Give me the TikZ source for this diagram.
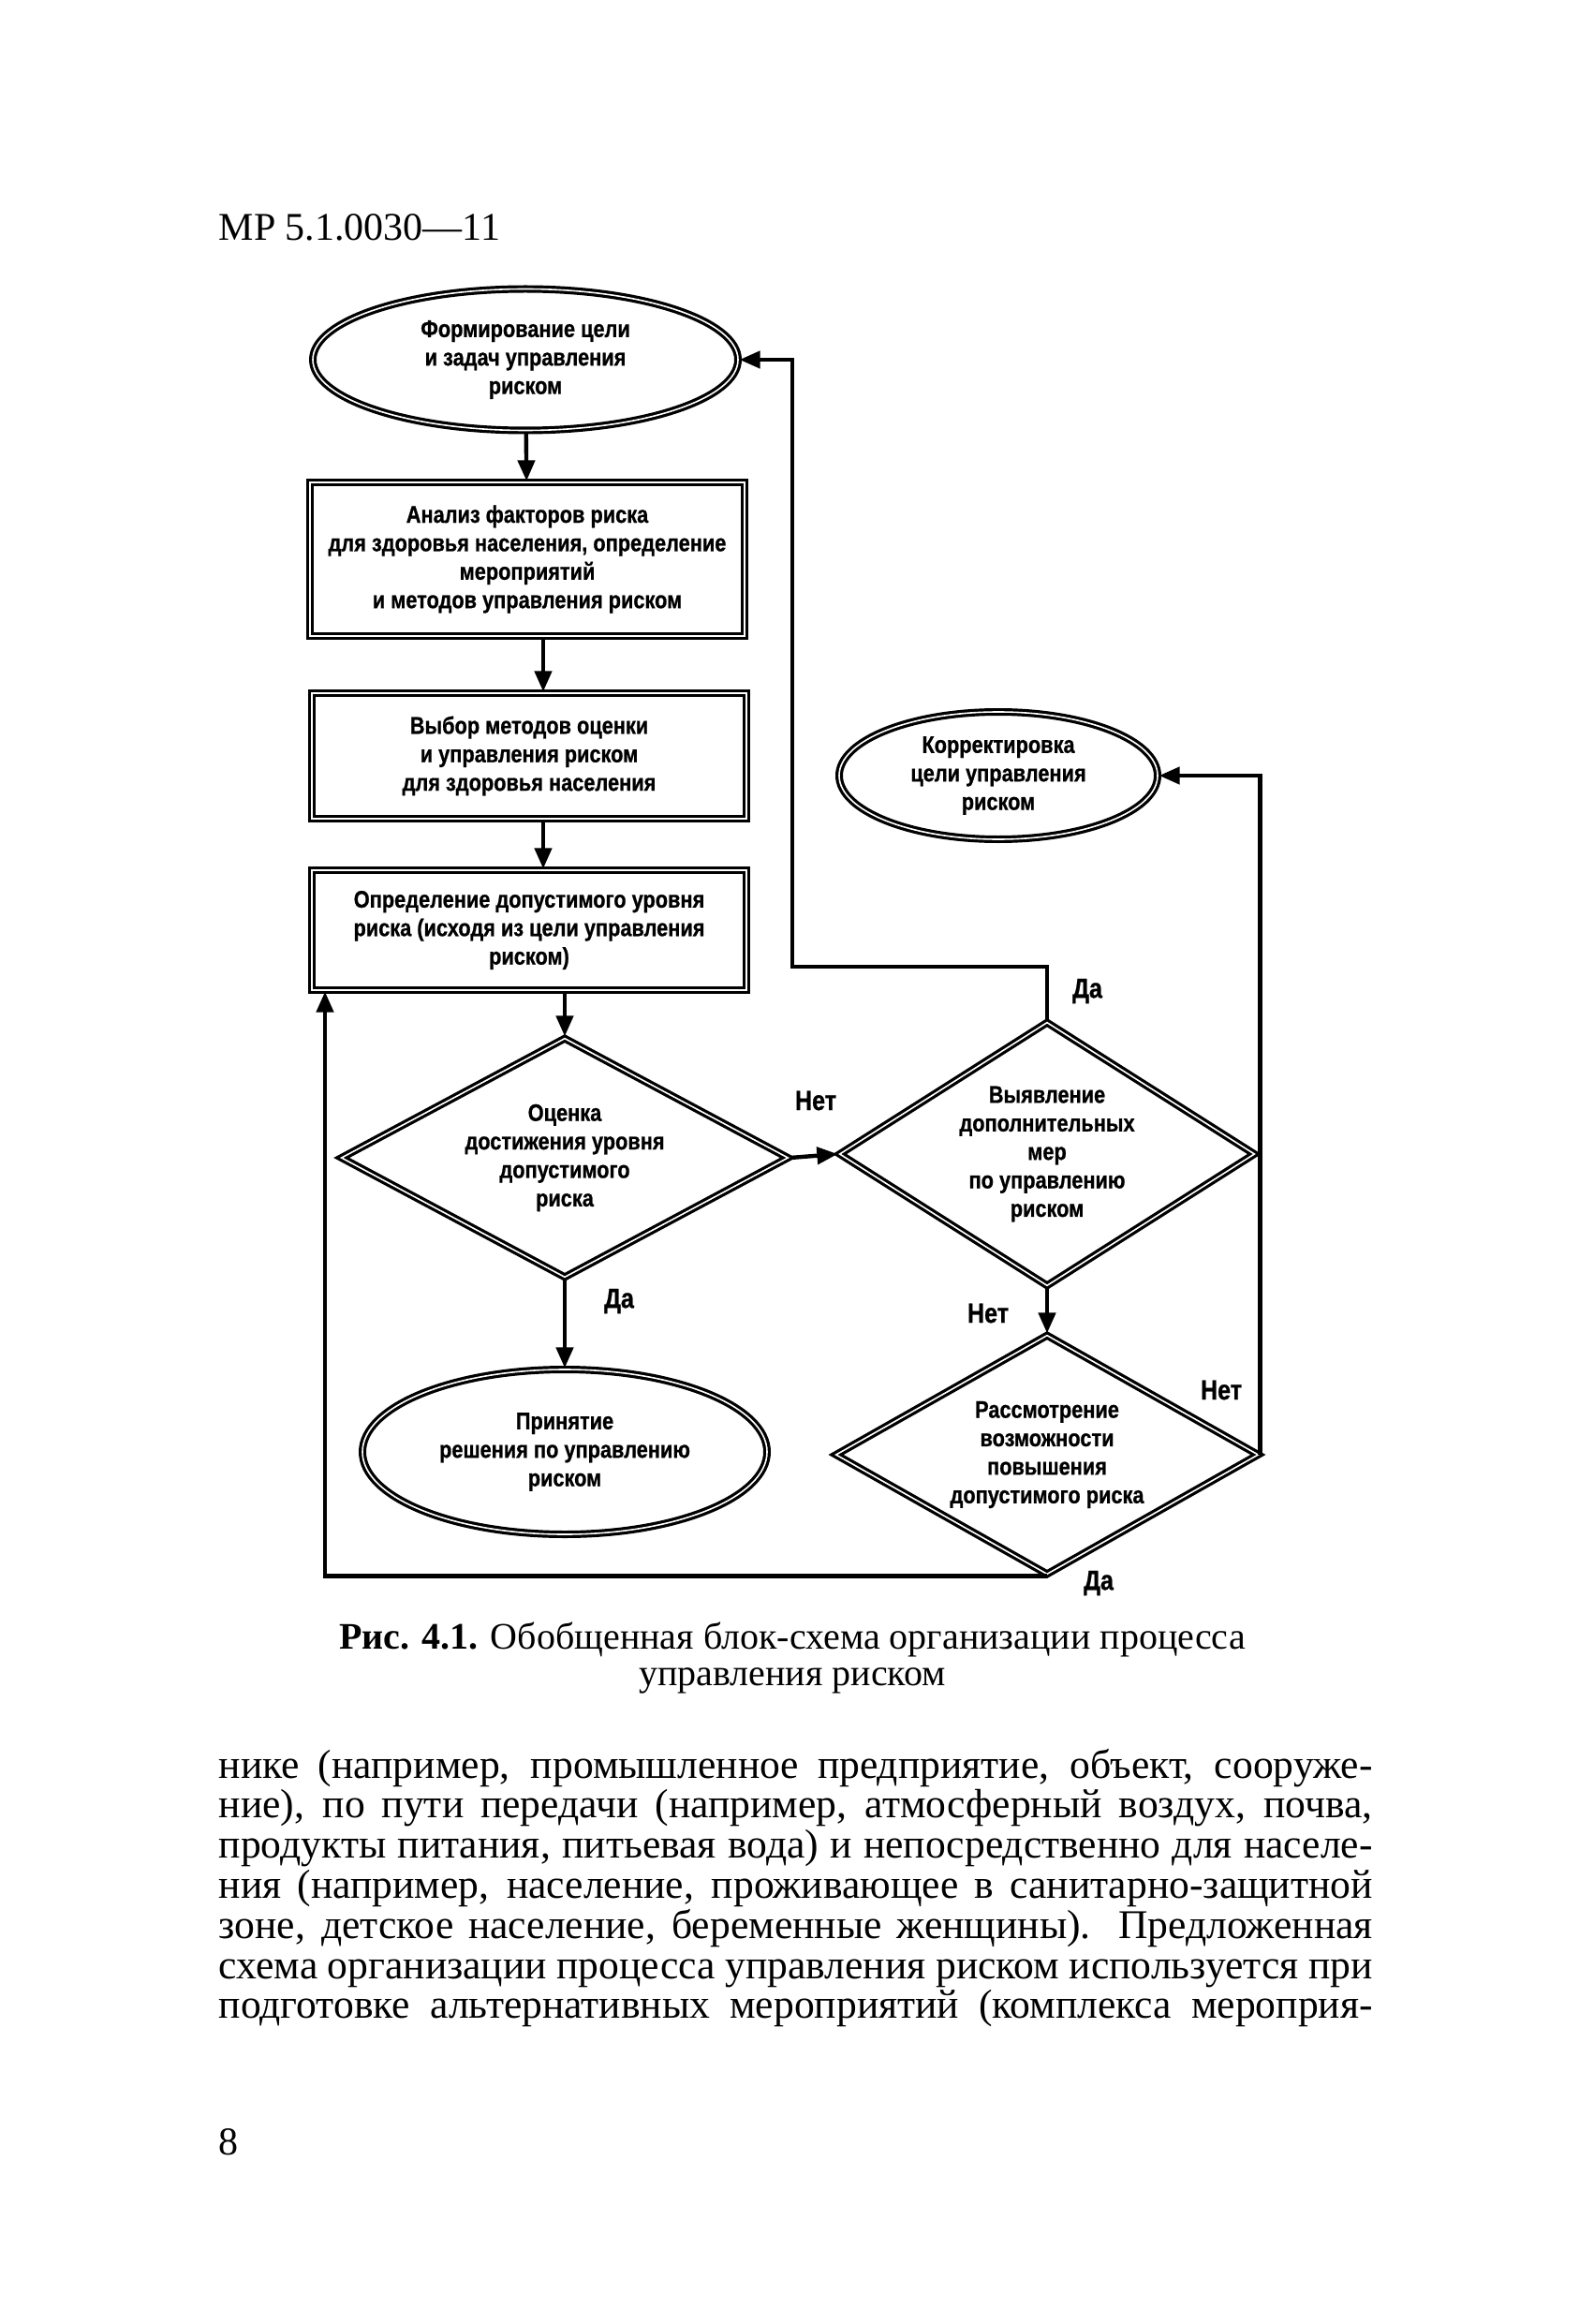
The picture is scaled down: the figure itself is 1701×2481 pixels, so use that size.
\documentclass[tikz,border=0pt]{standalone}
\usepackage{fontspec}
\setmainfont{Liberation Serif}
\newfontfamily\flowfont[FakeStretch=0.85, BoldFeatures={FakeBold=0.8}]{Liberation Sans}
\usetikzlibrary{shapes.geometric,arrows.meta}

\newcommand{\jline}[1]{\makebox[308pt][s]{#1}}

\tikzset{
  blk/.style={draw, line width=0.8pt, double=white, double distance=0.4pt,
    font=\flowfont\bfseries\fontsize{6.4}{7.6}\selectfont, align=center, inner sep=0pt},
  procbox/.style={blk, rectangle, minimum width=116pt},
  oval/.style={blk, ellipse},
  choice/.style={blk, diamond},
  txt/.style={font=\flowfont\bfseries\fontsize{6.4}{7.6}\selectfont, align=center, inner sep=0pt},
  yesno/.style={font=\flowfont\bfseries\fontsize{7.4}{8}\selectfont, inner sep=0pt},
  arr/.style={-{Triangle[length=5.5pt,width=4.5pt]}, line width=1.1pt},
}

\begin{document}
\begin{tikzpicture}[x=0.25pt, y=-0.25pt]
        \useasboundingbox (0,0) rectangle (1701,2481);
        \fill[white] (0,0) rectangle (1701,2481);
        % page head
        \node[anchor=base west, inner sep=0pt, font=\fontsize{10.5}{12}\selectfont] (hdr) at (233,257) {МР 5.1.0030—11};
        % left column
        \node[oval, minimum width=113.5pt, minimum height=37.75pt] (e1) at (561,384) {Формирование цели\\и задач управления\\риском};
        \node[procbox, minimum height=41pt] (b1) at (563,597) {Анализ факторов риска\\для здоровья населения, определение\\мероприятий\\и методов управления риском};
        \node[procbox, minimum height=33.5pt] (b2) at (565,807) {Выбор методов оценки\\и управления риском\\для здоровья населения};
        \node[procbox, minimum height=32pt] (b3) at (565,993) {Определение допустимого уровня\\риска (исходя из цели управления\\риском)};
        \node[choice, minimum width=119.5pt, minimum height=64pt,
          label={[txt]center:{Оценка\\достижения уровня\\допустимого\\риска}}] (d1) at (603,1236) {};
        \node[oval, minimum width=108pt, minimum height=44pt] (e3) at (603,1550) {Принятие\\решения по управлению\\риском};
        % right column
        \node[oval, minimum width=85pt, minimum height=34pt] (e2) at (1066,828) {Корректировка\\цели управления\\риском};
        \node[choice, minimum width=111pt, minimum height=70.5pt,
          label={[txt]center:{Выявление\\дополнительных\\мер\\по управлению\\риском}}] (d2) at (1118,1232) {};
        \node[choice, minimum width=113pt, minimum height=64pt,
          label={[txt]center:{Рассмотрение\\возможности\\повышения\\допустимого риска}}] (d3) at (1118,1553) {};

        % turning points of the loops
        \coordinate (ax) at (580,0);
        \coordinate (ry) at (846,1032);
        \coordinate (lx) at (347,0);

        \draw[arr] (e1) -- (b1);
        \draw[arr] (b1.south -| ax) -- (b2.north -| ax);
        \draw[arr] (b2.south -| ax) -- (b3.north -| ax);
        \draw[arr] (b3.south -| d1.north) -- (d1.north);
        \draw[arr] (d1.east) -- (d2.west);
        \draw[arr] (d1.south) -- (e3.north);
        \draw[arr] (d2.south) -- (d3.north);
        \draw[arr] (d2.north) |- (ry) |- (e1.east);
        \draw[arr] (d3.east) |- (e2.east);
        \draw[arr] (d3.south) -| (b3.south -| lx);

        % answers
        \node[yesno] (n1) at (871,1175) {Нет};
        \node[yesno] (y1) at (661,1389) {Да};
        \node[yesno] (n2) at (1055,1402) {Нет};
        \node[yesno] (y2) at (1161,1058) {Да};
        \node[yesno] (n3) at (1304,1484) {Нет};
        \node[yesno] (y3) at (1173,1690) {Да};

        % caption and running text
        \node[align=center, inner sep=0pt, font=\fontsize{10}{9.8}\selectfont] (cap) at (846,1770)
          {\textbf{Рис. 4.1.} Обобщенная блок-схема организации процесса\\управления риском};
        \node[anchor=north west, align=left, inner sep=0pt, font=\fontsize{10.9}{10.7}\selectfont] (body) at (233,1866)
          {\jline{нике (например, промышленное предприятие, объект, сооруже-}\\
           \jline{ние), по пути передачи (например, атмосферный воздух, почва,}\\
           \jline{продукты питания, питьевая вода) и непосредственно для населе-}\\
           \jline{ния (например, население, проживающее в санитарно-защитной}\\
           \jline{зоне, детское население, беременные женщины). Предложенная}\\
           \jline{схема организации процесса управления риском используется при}\\
           \jline{подготовке альтернативных мероприятий (комплекса мероприя-}};
        \node[anchor=base west, inner sep=0pt, font=\fontsize{10.5}{12}\selectfont] (pg) at (233,2300) {8};
    \end{tikzpicture}
\end{document}
